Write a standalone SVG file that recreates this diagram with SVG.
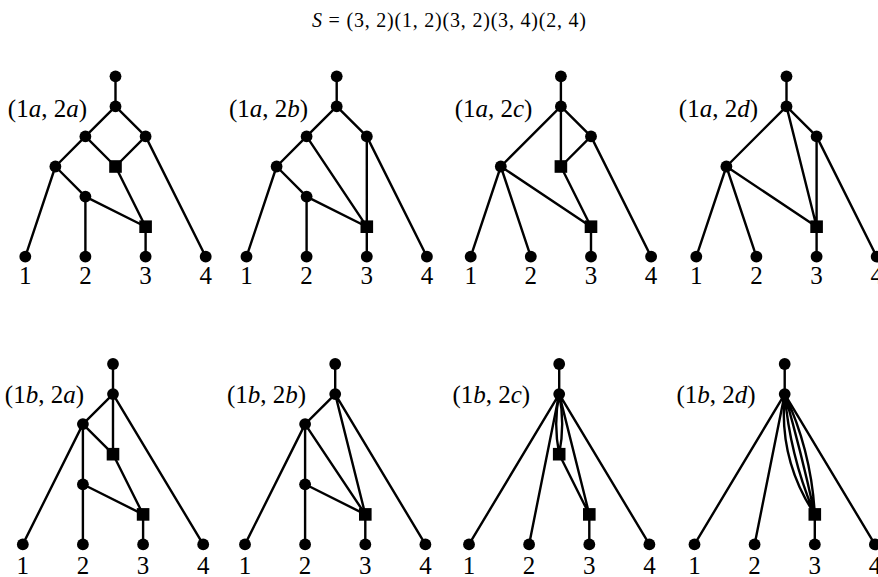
<svg xmlns="http://www.w3.org/2000/svg" width="878" height="577" viewBox="0 0 878 577">
<style>
.e{stroke:#000;stroke-width:2.4;fill:none;stroke-linecap:round}
.d{fill:#000}
.t{font-family:"Liberation Serif","DejaVu Serif",serif;fill:#000}
.lf{font-size:25px;text-anchor:middle}
.lb{font-size:25px;text-anchor:end}
.i{font-style:italic}
</style>
<defs>
<circle id="dot" r="5.9" class="d"/>
<rect id="sq" x="-6.3" y="-6.3" width="12.6" height="12.6" class="d"/>
</defs>
<text class="t" x="312" y="27" font-size="20" textLength="274" lengthAdjust="spacing"><tspan class="i">S</tspan> = (3, 2)(1, 2)(3, 2)(3, 4)(2, 4)</text>

<g id="connectors">
<!-- panel 1 -->
<path class="e" d="M115.5,76.3V106.4 M115.5,106.4L85.4,136.4 M115.5,106.4L145.6,136.4 M85.4,136.4L55.4,166.5 M85.4,136.4L115.5,166.5 M145.6,136.4L115.5,166.5 M145.6,136.4L205.7,256.7 M55.4,166.5L25.3,256.7 M55.4,166.5L85.4,196.6 M85.4,196.6V256.7 M85.4,196.6L145.6,226.7 M115.5,166.5L145.6,226.7 M145.6,226.7V256.7"/>
<!-- panel 2 -->
<path class="e" d="M336.7,76.3V106.4 M336.7,106.4L306.6,136.4 M336.7,106.4L366.8,136.4 M306.6,136.4L276.6,166.5 M306.6,136.4L366.8,226.7 M366.8,136.4V226.7 M366.8,136.4L426.9,256.7 M276.6,166.5L246.5,256.7 M276.6,166.5L306.6,196.6 M306.6,196.6V256.7 M306.6,196.6L366.8,226.7 M366.8,226.7V256.7"/>
<!-- panel 3 -->
<path class="e" d="M560.9,76.3V106.4 M560.9,106.4L500.8,166.5 M560.9,106.4V166.5 M560.9,106.4L591,136.4 M591,136.4L560.9,166.5 M591,136.4L651.1,256.7 M500.8,166.5L470.7,256.7 M500.8,166.5L530.8,256.7 M500.8,166.5L591,226.7 M560.9,166.5L591,226.7 M591,226.7V256.7"/>
<!-- panel 4 -->
<path class="e" d="M786.5,76.3V106.4 M786.5,106.4L726.4,166.5 M786.5,106.4L816.6,226.7 M786.5,106.4L816.6,136.4 M816.6,136.4V226.7 M816.6,136.4L876.7,256.7 M726.4,166.5L696.3,256.7 M726.4,166.5L756.4,256.7 M726.4,166.5L816.6,226.7 M816.6,226.7V256.7"/>
<!-- panel 5 -->
<path class="e" d="M113,364V394.1 M113,394.1L82.9,424.1 M113,394.1V454.2 M113,394.1L203.2,544.4 M82.9,424.1L22.8,544.4 M82.9,424.1L113,454.2 M82.9,424.1V484.3 M82.9,484.3V544.4 M82.9,484.3L143.1,514.4 M113,454.2L143.1,514.4 M143.1,514.4V544.4"/>
<!-- panel 6 -->
<path class="e" d="M335.2,364V394.1 M335.2,394.1L305.1,424.1 M335.2,394.1L365.3,514.4 M335.2,394.1L425.4,544.4 M305.1,424.1L245,544.4 M305.1,424.1V484.3 M305.1,424.1L365.3,514.4 M305.1,484.3V544.4 M305.1,484.3L365.3,514.4 M365.3,514.4V544.4"/>
<!-- panel 7 -->
<path class="e" d="M559.2,364V394.1 M559.2,394.1L469,544.4 M559.2,394.1L529.1,544.4 M559.2,394.1L589.3,514.4 M559.2,394.1L649.4,544.4 M559.2,454.2L589.3,514.4 M589.3,514.4V544.4"/>
<path class="e" d="M559.2,394.1C555.2,414.1 555.2,434.2 559.2,454.2 M559.2,394.1C563.2,414.1 563.2,434.2 559.2,454.2"/>
<!-- panel 8 -->
<path class="e" d="M784.7,364V394.1 M784.7,394.1L694.5,544.4 M784.7,394.1L754.6,544.4 M784.7,394.1L874.9,544.4 M814.8,514.4V544.4"/>
<path class="e" d="M784.7,394.1C780.5,437.8 790.5,477.9 814.8,514.4 M784.7,394.1C788.26,435.8 798.3,475.9 814.8,514.4 M784.7,394.1C796,433.9 806.06,474 814.8,514.4 M784.7,394.1C802.5,432.3 812.5,472.4 814.8,514.4"/>
</g>

<g id="p1">
<g id="p1-top"><use href="#dot" x="115.5" y="76.3"/></g>
<g id="p1-root"><use href="#dot" x="115.5" y="106.4"/></g>
<g id="p1-l"><use href="#dot" x="85.4" y="136.4"/></g>
<g id="p1-r"><use href="#dot" x="145.6" y="136.4"/></g>
<g id="p1-fl"><use href="#dot" x="55.4" y="166.5"/></g>
<g id="p1-sq1"><use href="#sq" x="115.5" y="166.5"/></g>
<g id="p1-m"><use href="#dot" x="85.4" y="196.6"/></g>
<g id="p1-sq2"><use href="#sq" x="145.6" y="226.7"/></g>
<g id="p1-leaf1"><use href="#dot" x="25.3" y="256.7"/><text class="t lf" x="25.3" y="284">1</text></g>
<g id="p1-leaf2"><use href="#dot" x="85.4" y="256.7"/><text class="t lf" x="85.4" y="284">2</text></g>
<g id="p1-leaf3"><use href="#dot" x="145.6" y="256.7"/><text class="t lf" x="145.6" y="284">3</text></g>
<g id="p1-leaf4"><use href="#dot" x="205.7" y="256.7"/><text class="t lf" x="205.7" y="284">4</text></g>
<text class="t lb" x="87" y="117">(1<tspan class="i">a</tspan>, 2<tspan class="i">a</tspan>)</text>
</g>

<g id="p2">
<g id="p2-top"><use href="#dot" x="336.7" y="76.3"/></g>
<g id="p2-root"><use href="#dot" x="336.7" y="106.4"/></g>
<g id="p2-l"><use href="#dot" x="306.6" y="136.4"/></g>
<g id="p2-r"><use href="#dot" x="366.8" y="136.4"/></g>
<g id="p2-fl"><use href="#dot" x="276.6" y="166.5"/></g>
<g id="p2-m"><use href="#dot" x="306.6" y="196.6"/></g>
<g id="p2-sq"><use href="#sq" x="366.8" y="226.7"/></g>
<g id="p2-leaf1"><use href="#dot" x="246.5" y="256.7"/><text class="t lf" x="246.5" y="284">1</text></g>
<g id="p2-leaf2"><use href="#dot" x="306.6" y="256.7"/><text class="t lf" x="306.6" y="284">2</text></g>
<g id="p2-leaf3"><use href="#dot" x="366.8" y="256.7"/><text class="t lf" x="366.8" y="284">3</text></g>
<g id="p2-leaf4"><use href="#dot" x="426.9" y="256.7"/><text class="t lf" x="426.9" y="284">4</text></g>
<text class="t lb" x="308.2" y="117">(1<tspan class="i">a</tspan>, 2<tspan class="i">b</tspan>)</text>
</g>

<g id="p3">
<g id="p3-top"><use href="#dot" x="560.9" y="76.3"/></g>
<g id="p3-root"><use href="#dot" x="560.9" y="106.4"/></g>
<g id="p3-r"><use href="#dot" x="591" y="136.4"/></g>
<g id="p3-ln"><use href="#dot" x="500.8" y="166.5"/></g>
<g id="p3-sq1"><use href="#sq" x="560.9" y="166.5"/></g>
<g id="p3-sq2"><use href="#sq" x="591" y="226.7"/></g>
<g id="p3-leaf1"><use href="#dot" x="470.7" y="256.7"/><text class="t lf" x="470.7" y="284">1</text></g>
<g id="p3-leaf2"><use href="#dot" x="530.8" y="256.7"/><text class="t lf" x="530.8" y="284">2</text></g>
<g id="p3-leaf3"><use href="#dot" x="591" y="256.7"/><text class="t lf" x="591" y="284">3</text></g>
<g id="p3-leaf4"><use href="#dot" x="651.1" y="256.7"/><text class="t lf" x="651.1" y="284">4</text></g>
<text class="t lb" x="532.4" y="117">(1<tspan class="i">a</tspan>, 2<tspan class="i">c</tspan>)</text>
</g>

<g id="p4">
<g id="p4-top"><use href="#dot" x="786.5" y="76.3"/></g>
<g id="p4-root"><use href="#dot" x="786.5" y="106.4"/></g>
<g id="p4-r"><use href="#dot" x="816.6" y="136.4"/></g>
<g id="p4-ln"><use href="#dot" x="726.4" y="166.5"/></g>
<g id="p4-sq"><use href="#sq" x="816.6" y="226.7"/></g>
<g id="p4-leaf1"><use href="#dot" x="696.3" y="256.7"/><text class="t lf" x="696.3" y="284">1</text></g>
<g id="p4-leaf2"><use href="#dot" x="756.4" y="256.7"/><text class="t lf" x="756.4" y="284">2</text></g>
<g id="p4-leaf3"><use href="#dot" x="816.6" y="256.7"/><text class="t lf" x="816.6" y="284">3</text></g>
<g id="p4-leaf4"><use href="#dot" x="876.7" y="256.7"/><text class="t lf" x="876.7" y="284">4</text></g>
<text class="t lb" x="758" y="117">(1<tspan class="i">a</tspan>, 2<tspan class="i">d</tspan>)</text>
</g>

<g id="p5">
<g id="p5-top"><use href="#dot" x="113" y="364"/></g>
<g id="p5-root"><use href="#dot" x="113" y="394.1"/></g>
<g id="p5-l"><use href="#dot" x="82.9" y="424.1"/></g>
<g id="p5-sq1"><use href="#sq" x="113" y="454.2"/></g>
<g id="p5-m"><use href="#dot" x="82.9" y="484.3"/></g>
<g id="p5-sq2"><use href="#sq" x="143.1" y="514.4"/></g>
<g id="p5-leaf1"><use href="#dot" x="22.8" y="544.4"/><text class="t lf" x="22.8" y="573.5">1</text></g>
<g id="p5-leaf2"><use href="#dot" x="82.9" y="544.4"/><text class="t lf" x="82.9" y="573.5">2</text></g>
<g id="p5-leaf3"><use href="#dot" x="143.1" y="544.4"/><text class="t lf" x="143.1" y="573.5">3</text></g>
<g id="p5-leaf4"><use href="#dot" x="203.2" y="544.4"/><text class="t lf" x="203.2" y="573.5">4</text></g>
<text class="t lb" x="84" y="403">(1<tspan class="i">b</tspan>, 2<tspan class="i">a</tspan>)</text>
</g>

<g id="p6">
<g id="p6-top"><use href="#dot" x="335.2" y="364"/></g>
<g id="p6-root"><use href="#dot" x="335.2" y="394.1"/></g>
<g id="p6-l"><use href="#dot" x="305.1" y="424.1"/></g>
<g id="p6-m"><use href="#dot" x="305.1" y="484.3"/></g>
<g id="p6-sq"><use href="#sq" x="365.3" y="514.4"/></g>
<g id="p6-leaf1"><use href="#dot" x="245" y="544.4"/><text class="t lf" x="245" y="573.5">1</text></g>
<g id="p6-leaf2"><use href="#dot" x="305.1" y="544.4"/><text class="t lf" x="305.1" y="573.5">2</text></g>
<g id="p6-leaf3"><use href="#dot" x="365.3" y="544.4"/><text class="t lf" x="365.3" y="573.5">3</text></g>
<g id="p6-leaf4"><use href="#dot" x="425.4" y="544.4"/><text class="t lf" x="425.4" y="573.5">4</text></g>
<text class="t lb" x="306.2" y="403">(1<tspan class="i">b</tspan>, 2<tspan class="i">b</tspan>)</text>
</g>

<g id="p7">
<g id="p7-top"><use href="#dot" x="559.2" y="364"/></g>
<g id="p7-root"><use href="#dot" x="559.2" y="394.1"/></g>
<g id="p7-sq1"><use href="#sq" x="559.2" y="454.2"/></g>
<g id="p7-sq2"><use href="#sq" x="589.3" y="514.4"/></g>
<g id="p7-leaf1"><use href="#dot" x="469" y="544.4"/><text class="t lf" x="469" y="573.5">1</text></g>
<g id="p7-leaf2"><use href="#dot" x="529.1" y="544.4"/><text class="t lf" x="529.1" y="573.5">2</text></g>
<g id="p7-leaf3"><use href="#dot" x="589.3" y="544.4"/><text class="t lf" x="589.3" y="573.5">3</text></g>
<g id="p7-leaf4"><use href="#dot" x="649.4" y="544.4"/><text class="t lf" x="649.4" y="573.5">4</text></g>
<text class="t lb" x="530.2" y="403">(1<tspan class="i">b</tspan>, 2<tspan class="i">c</tspan>)</text>
</g>

<g id="p8">
<g id="p8-top"><use href="#dot" x="784.7" y="364"/></g>
<g id="p8-root"><use href="#dot" x="784.7" y="394.1"/></g>
<g id="p8-sq"><use href="#sq" x="814.8" y="514.4"/></g>
<g id="p8-leaf1"><use href="#dot" x="694.5" y="544.4"/><text class="t lf" x="694.5" y="573.5">1</text></g>
<g id="p8-leaf2"><use href="#dot" x="754.6" y="544.4"/><text class="t lf" x="754.6" y="573.5">2</text></g>
<g id="p8-leaf3"><use href="#dot" x="814.8" y="544.4"/><text class="t lf" x="814.8" y="573.5">3</text></g>
<g id="p8-leaf4"><use href="#dot" x="874.9" y="544.4"/><text class="t lf" x="874.9" y="573.5">4</text></g>
<text class="t lb" x="755.7" y="403">(1<tspan class="i">b</tspan>, 2<tspan class="i">d</tspan>)</text>
</g>
</svg>
